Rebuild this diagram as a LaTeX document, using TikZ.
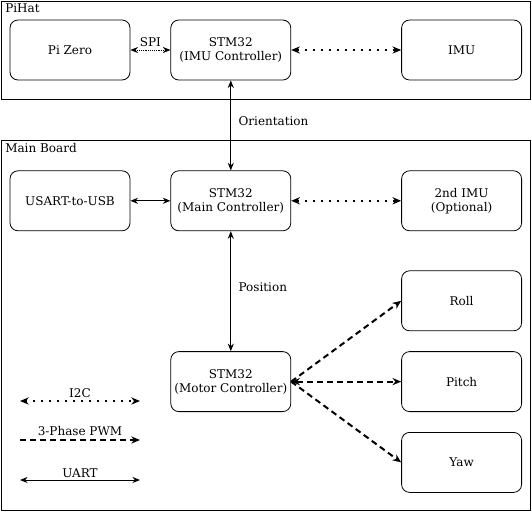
\documentclass[tikz,border=0pt]{standalone}
\usepackage{fontspec}
\setmainfont{DejaVu Serif}
\usetikzlibrary{arrows.meta,positioning}
\tikzset{
  board/.style    ={draw,line width=0.8pt,inner sep=0pt,anchor=north west},
  blbl/.style     ={anchor=north west,inner sep=0pt},
  unit/.style     ={draw,line width=0.6pt,rounded corners=6pt,align=center,
                    minimum width=90pt,minimum height=45pt,inner sep=1pt},
  uart/.style     ={{Stealth[length=2mm,width=1.6mm]}-{Stealth[length=2mm,width=1.6mm]},line width=0.7pt},
  spi/.style      ={{Stealth[length=2mm,width=1.6mm]}-{Stealth[length=2mm,width=1.6mm]},line width=0.6pt,
                    dash pattern=on 0.7pt off 0.7pt},
  i2c/.style      ={{Stealth[length=2.3mm,width=1.9mm]}-{Stealth[length=2.3mm,width=1.9mm]},line width=1.5pt,
                    dash pattern=on 1.5pt off 4.5pt},
  pwm/.style      ={-{Stealth[length=2.3mm,width=1.9mm]},line width=1.5pt,dash pattern=on 4.5pt off 3pt},
  pwmboth/.style  ={pwm,{Stealth[length=2.3mm,width=1.9mm]}-{Stealth[length=2.3mm,width=1.9mm]}},
  lbl/.style      ={inner sep=1.5pt},
}

\begin{document}
\begin{tikzpicture}[font=\fontsize{9}{10.5}\selectfont]
\useasboundingbox (0,0) rectangle (399pt,-384pt);

% boards
\node[board,minimum width=396.75pt,minimum height=73.5pt] (pihat) at (0.75pt,-0.75pt) {};
\node[blbl] (pihatlbl) at ([shift={(3pt,-2pt)}]pihat.north west) {PiHat};
\node[board,minimum width=396.75pt,minimum height=277.5pt] (mainb) at (0.75pt,-105pt) {};
\node[blbl] (mainlbl) at ([shift={(3pt,-2pt)}]mainb.north west) {Main Board};

% PiHat units
\node[unit] (pizero) at (52.5pt,-37.5pt) {Pi Zero};
\node[unit,right=30pt of pizero] (imuctl) {STM32\\(IMU Controller)};
\node[unit,right=82.5pt of imuctl] (imu) {IMU};

% main board units
\node[unit,below=67.5pt of imuctl] (mainctl) {STM32\\(Main Controller)};
\node[unit,left=30pt of mainctl] (usb) {USART-to-USB};
\node[unit,right=82.5pt of mainctl] (imu2) {2nd IMU\\(Optional)};
\node[unit,below=90pt of mainctl] (motorctl) {STM32\\(Motor Controller)};
\node[unit,right=82.5pt of motorctl] (pitch) {Pitch};
\node[unit,above=15pt of pitch] (roll) {Roll};
\node[unit,below=15pt of pitch] (yaw) {Yaw};

% links
\draw[spi] (pizero) -- node[lbl,above,yshift=1pt]{SPI} (imuctl);
\draw[i2c] (imuctl) -- (imu);
\draw[uart] (imuctl) -- node[lbl,right,xshift=4pt,yshift=3pt]{Orientation} (mainctl);
\draw[uart] (usb) -- (mainctl);
\draw[i2c] (mainctl) -- (imu2);
\draw[uart] (mainctl) -- node[lbl,right,xshift=4pt,yshift=3pt]{Position} (motorctl);
\draw[pwm] (motorctl.east) -- (roll.west);
\draw[pwmboth] (motorctl.east) -- (pitch.west);
\draw[pwm] (motorctl.east) -- (yaw.west);

% legend
\coordinate (i2cA) at (15pt,-300.75pt);
\coordinate (i2cB) at (105pt,-300.75pt);
\coordinate (pwmA) at (15pt,-330pt);
\coordinate (pwmB) at (105pt,-330pt);
\coordinate (uartA) at (15pt,-360pt);
\coordinate (uartB) at (105pt,-360pt);
\draw[i2c] (i2cA) -- node[lbl,above]{I2C} (i2cB);
\draw[pwm] (pwmA) -- node[lbl,above,yshift=1pt]{3-Phase PWM} (pwmB);
\draw[uart] (uartA) -- node[lbl,above]{UART} (uartB);
\end{tikzpicture}
\end{document}
